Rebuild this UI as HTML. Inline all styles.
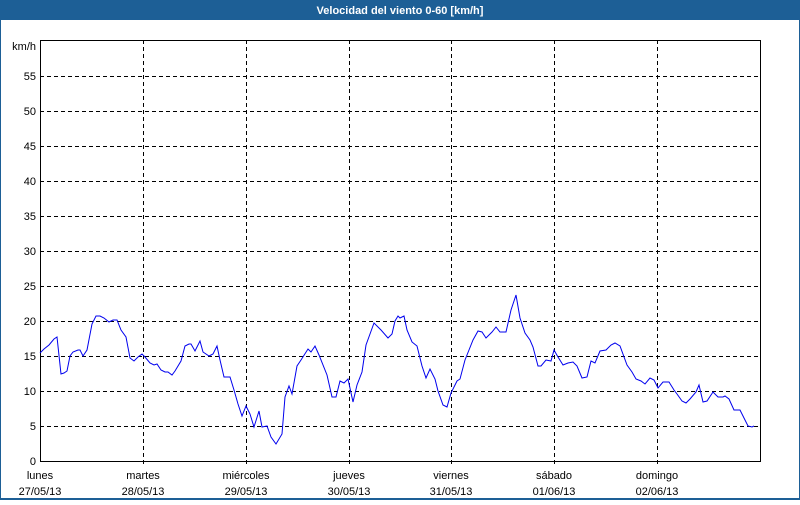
<!DOCTYPE html>
<html><head><style>
body{margin:0;background:#fff}
</style></head><body>
<svg width="800" height="500" xmlns="http://www.w3.org/2000/svg" font-family="'Liberation Sans', Arial, sans-serif" font-size="11">
<rect x="0" y="0" width="800" height="500" fill="#1d5f96"/>
<rect x="1" y="20" width="798" height="478" fill="#fff"/>
<text x="400" y="14" fill="#fff" font-weight="bold" text-anchor="middle" font-size="11">Velocidad del viento 0-60 [km/h]</text>
<g stroke="#000" stroke-dasharray="4,3" stroke-width="1">
<line x1="40" y1="76.5" x2="760" y2="76.5"/><line x1="40" y1="111.5" x2="760" y2="111.5"/><line x1="40" y1="146.5" x2="760" y2="146.5"/><line x1="40" y1="181.5" x2="760" y2="181.5"/><line x1="40" y1="216.5" x2="760" y2="216.5"/><line x1="40" y1="251.5" x2="760" y2="251.5"/><line x1="40" y1="286.5" x2="760" y2="286.5"/><line x1="40" y1="321.5" x2="760" y2="321.5"/><line x1="40" y1="356.5" x2="760" y2="356.5"/><line x1="40" y1="391.5" x2="760" y2="391.5"/><line x1="40" y1="426.5" x2="760" y2="426.5"/>
<line x1="143.5" y1="40" x2="143.5" y2="466"/><line x1="246.5" y1="40" x2="246.5" y2="466"/><line x1="349.5" y1="40" x2="349.5" y2="466"/><line x1="451.5" y1="40" x2="451.5" y2="466"/><line x1="554.5" y1="40" x2="554.5" y2="466"/><line x1="657.5" y1="40" x2="657.5" y2="466"/>
</g>
<rect x="40.5" y="40.5" width="720" height="421" fill="none" stroke="#000"/>
<g fill="#000" text-anchor="end">
<text x="36" y="50">km/h</text>
<text x="36" y="80">55</text><text x="36" y="115">50</text><text x="36" y="150">45</text><text x="36" y="185">40</text><text x="36" y="220">35</text><text x="36" y="255">30</text><text x="36" y="290">25</text><text x="36" y="325">20</text><text x="36" y="360">15</text><text x="36" y="395">10</text><text x="36" y="430">5</text><text x="36" y="465">0</text>
</g>
<g fill="#000" text-anchor="middle">
<text x="40" y="479">lunes</text><text x="40" y="495">27/05/13</text>
<text x="143" y="479">martes</text><text x="143" y="495">28/05/13</text>
<text x="246" y="479">miércoles</text><text x="246" y="495">29/05/13</text>
<text x="349" y="479">jueves</text><text x="349" y="495">30/05/13</text>
<text x="451" y="479">viernes</text><text x="451" y="495">31/05/13</text>
<text x="554" y="479">sábado</text><text x="554" y="495">01/06/13</text>
<text x="657" y="479">domingo</text><text x="657" y="495">02/06/13</text>
</g>
<polyline fill="none" stroke="#0000ee" stroke-width="1" points="40,353 44,349 49,345 54,339 57,337 61,374 64,373 67,371 70,356 73,352 78,350 80,350 83,356 87,350 92,324 96,316 100,316 104,318 109,322 113,320 117,320 121,330 126,337 130,358 134,361 138,357 142,354 145,357 150,363 154,365 157,364 161,370 165,372 168,372 172,375 175,371 181,361 185,346 189,344 191,344 195,351 200,341 203,352 209,356 213,354 217,346 220,360 224,377 230,377 234,390 238,404 242,416 246,406 250,414 254,427 259,411 262,427 267,426 271,437 276,444 282,434 285,397 289,386 292,394 297,366 301,360 308,349 311,352 315,346 319,355 327,375 332,397 336,397 340,381 344,383 348,379 353,402 357,385 362,372 366,345 370,334 374,323 378,327 381,330 388,338 392,334 395,321 398,316 400,318 404,316 407,330 412,342 417,346 422,366 426,378 430,369 435,379 438,391 443,405 447,407 451,393 457,381 460,379 465,360 469,350 473,340 478,331 482,332 486,338 492,332 496,327 500,332 506,332 511,310 516,295 520,318 525,333 530,340 533,347 538,366 541,366 546,360 551,361 554,350 558,357 563,365 568,363 573,362 577,366 582,378 587,377 591,361 595,363 600,351 606,350 611,345 615,343 620,346 627,365 632,372 636,379 641,381 645,384 650,378 654,380 658,388 663,382 669,382 674,390 677,394 682,401 686,403 690,399 696,392 699,385 703,402 707,401 713,392 718,397 723,397 725,396 729,399 734,410 740,410 744,418 748,426 752,427 754,426"/>
</svg>
</body></html>
